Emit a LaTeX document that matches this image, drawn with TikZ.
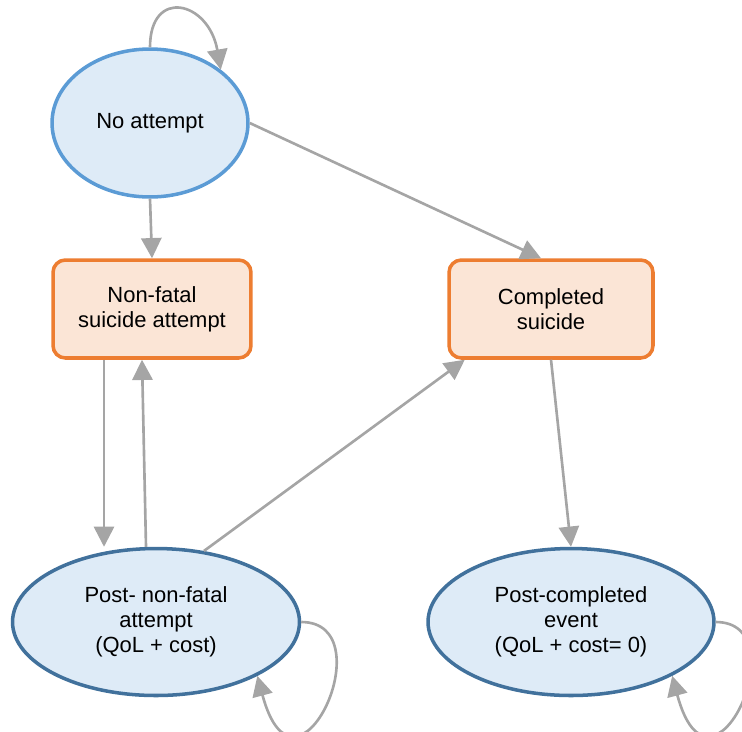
\documentclass[tikz,border=0pt]{standalone}
\usepackage{fontspec}
\setmainfont{Liberation Sans}
\usetikzlibrary{shapes.geometric,arrows.meta,positioning}
\definecolor{stateblue}{RGB}{91,155,213}
\definecolor{statedark}{RGB}{65,113,156}
\definecolor{statefill}{RGB}{222,235,247}
\definecolor{eventorange}{RGB}{237,125,49}
\definecolor{eventfill}{RGB}{251,229,214}
\definecolor{arrgrey}{RGB}{165,165,165}

\begin{document}
\begin{tikzpicture}[x=0.02cm, y=-0.02cm,
    state/.style={ellipse, draw=statedark, fill=statefill, line width=2pt, inner sep=0pt,
                  align=center, font=\fontsize{12.5}{14.2}\selectfont},
    box/.style={rectangle, draw=eventorange, fill=eventfill, rounded corners=7pt, line width=2pt,
                minimum height=1.96cm, align=center, font=\fontsize{12.5}{14.2}\selectfont},
    arr/.style={-{Triangle[length=11.5pt,width=11.5pt]}, line width=1.5pt, arrgrey}
]
    \useasboundingbox (0,0) rectangle (742,731);

    \node[state, draw=stateblue, minimum width=3.92cm, minimum height=2.96cm] (noatt) at (150,123) {No attempt};
    \node[box, minimum width=3.96cm] (nonfatal) at (152,309) {Non-fatal\\suicide attempt};
    \node[box, minimum width=4.08cm] (completed) at (551,309) {Completed\\suicide};
    \node[state, minimum width=5.74cm, minimum height=2.94cm] (postnf) at (156,622) {Post- non-fatal\\attempt\\(QoL + cost)};
    \node[state, minimum width=5.72cm, minimum height=2.94cm] (postc) at (571,622) {Post-completed\\event\\(QoL + cost= 0)};

    \draw[arr] (noatt.south) -- (nonfatal.north);
    \draw[arr] (noatt.east) -- ([xshift=-0.2cm]completed.north);
    \draw[arr] ([xshift=-0.96cm]nonfatal.south) -- ([xshift=-0.96cm]nonfatal.south |- postnf.north);
    \draw[arr] ([xshift=-0.2cm]postnf.north) -- ([xshift=-0.2cm]nonfatal.south);
    \draw[arr] (postnf.56) -- ([xshift=0.35cm]completed.south west);
    \draw[arr] (completed.south) -- (postc.north);

    % self loops
    \draw[arr] (noatt.north) .. controls +(90:1.2cm) and +(100:1.4cm) .. (noatt.37);
    \draw[arr] (postnf.east) .. controls +(0:1.7cm) and +(-75:3cm) .. (postnf.-28);
    \draw[arr] (postc.east) .. controls +(0:1.7cm) and +(-75:3cm) .. (postc.-28);
\end{tikzpicture}
\end{document}
